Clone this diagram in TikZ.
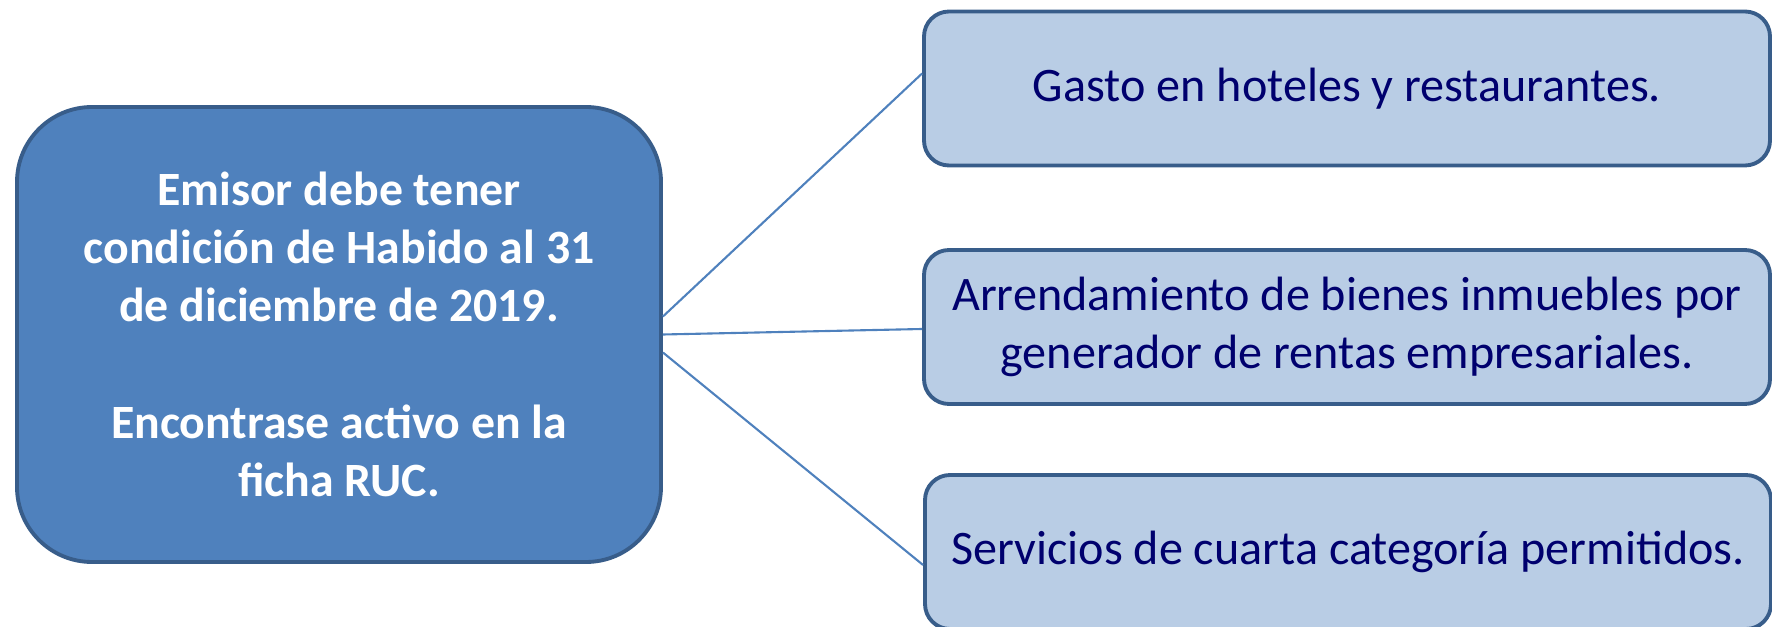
\documentclass[tikz,border=0pt]{standalone}
\usepackage{fontspec}
\setmainfont{Carlito}
\definecolor{darkfill}{HTML}{4F81BD}
\definecolor{boxline}{HTML}{385D8A}
\definecolor{lightfill}{HTML}{B9CDE5}
\definecolor{navytext}{RGB}{0,0,110}
\begin{document}
\begin{tikzpicture}[
    mainbox/.style={draw=boxline, fill=darkfill, line width=1.1pt, rounded corners=0.75cm,
      minimum width=6.44cm, minimum height=4.55cm, align=center, text=white,
      font=\fontsize{13.6}{16.6}\selectfont\bfseries},
    itembox/.style={draw=boxline, fill=lightfill, line width=1.1pt, rounded corners=0.25cm,
      minimum width=8.46cm, minimum height=1.54cm, align=center, text=navytext,
      font=\fontsize{13.7}{16.4}\selectfont},
    link/.style={draw=darkfill, line width=0.6pt}]
    \useasboundingbox (0,0) rectangle (17.72,-6.27);
    \node[mainbox] (req) at (3.39,-3.345) {Emisor debe tener\\condición de Habido al 31\\de diciembre de 2019.\\[16.6pt]Encontrase activo en la\\ficha RUC.};
    \node[itembox] (hotel) at (13.47,-0.885) {Gasto en hoteles y restaurantes.};
    \node[itembox] (renta) at (13.47,-3.27) {Arrendamiento de bienes inmuebles por\\generador de rentas empresariales.};
    \node[itembox] (cuarta) at (13.48,-5.52) {Servicios de cuarta categoría permitidos.};
    \draw[link] ([yshift=0.18cm]req.east) -- ([yshift=0.15cm]hotel.west);
    \draw[link] (req.east) -- ([yshift=-0.02cm]renta.west);
    \draw[link] ([yshift=-0.18cm]req.east) -- ([yshift=-0.13cm]cuarta.west);
\end{tikzpicture}
\end{document}
